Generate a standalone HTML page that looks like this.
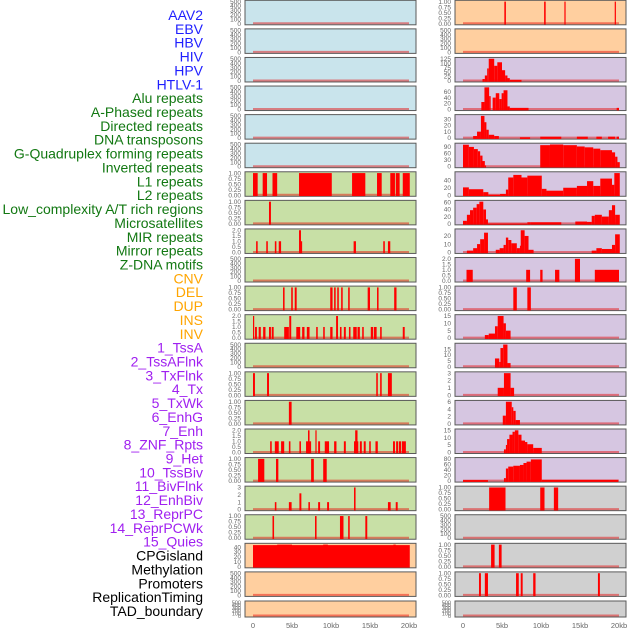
<!DOCTYPE html>
<html><head><meta charset="utf-8">
<style>
html,body{margin:0;padding:0;background:#fff;}
svg{display:block;}
</style></head>
<body>
<svg id="chart" width="630" height="630" viewBox="0 0 630 630" xmlns="http://www.w3.org/2000/svg"></svg>
<script>
// ---- data ----
const trackLabels = ["AAV2","EBV","HBV","HIV","HPV","HTLV-1","Alu repeats","A-Phased repeats","Directed repeats","DNA transposons","G-Quadruplex forming repeats","Inverted repeats","L1 repeats","L2 repeats","Low_complexity A/T rich regions","Microsatellites","MIR repeats","Mirror repeats","Z-DNA motifs","CNV","DEL","DUP","INS","INV","1_TssA","2_TssAFlnk","3_TxFlnk","4_Tx","5_TxWk","6_EnhG","7_Enh","8_ZNF_Rpts","9_Het","10_TssBiv","11_BivFlnk","12_EnhBiv","13_ReprPC","14_ReprPCWk","15_Quies","CPGisland","Methylation","Promoters","ReplicationTiming","TAD_boundary"];
const labelGroups = ["virus","virus","virus","virus","virus","virus","repeat","repeat","repeat","repeat","repeat","repeat","repeat","repeat","repeat","repeat","repeat","repeat","repeat","sv","sv","sv","sv","sv","state","state","state","state","state","state","state","state","state","state","state","state","state","state","state","other","other","other","other","other"];
const xTicks = [0,5,10,15,20];
const xTickLabels = ["0","5kb","10kb","15kb","20kb"];
const tEmpty = [0,100,200,300,400,500];
const tUnit = [0,0.25,0.5,0.75,1];
const tUnitLbl = ["0.00","0.25","0.50","0.75","1.00"];
const tTwo = [0,0.5,1,1.5,2];
const tTwoLbl = ["0.0","0.5","1.0","1.5","2.0"];

// middle column bars: [startKb, endKb, value]
const m6 = [[0,0.6,1],[1.24,1.8,1],[2.5,3.1,1],[5.9,10.1,1],[12.7,14.4,1],[15.9,16.5,1],[17.6,18.2,1],[18.3,18.8,1],[19.2,20.1,1]];
const m7 = [[2.05,2.3,1]];
const m8 = [[0.4,0.6,1],[1.7,1.9,1],[2.8,3.0,1],[3.3,3.6,1],[5.9,6.15,2],[6.1,6.3,1],[12.9,13.2,1],[16.7,16.9,1],[17.3,17.6,1]];
const m10 = [[3.85,4.05,1],[4.9,5.1,1],[5.35,5.6,1],[9.9,10.2,1],[10.4,10.6,1],[10.8,11,1],[11.3,11.5,1],[12.2,12.4,1],[14.7,15,1],[15.9,16.1,1],[18.1,18.4,1]];
const m11 = [[0,0.13,2],[0.26,0.5,1],[0.73,1.0,1],[1.3,1.6,1],[2.05,2.3,1],[2.4,2.65,1],[4.0,4.6,1],[4.65,4.9,2],[5.55,6.05,1],[6.3,6.6,1],[6.9,7.25,1],[8.1,8.3,1],[9.0,9.2,1],[9.9,10.2,1],[10.65,10.9,2],[11.15,11.35,1],[11.65,11.9,1],[12.3,12.5,1],[12.85,13.3,1],[13.4,13.7,1],[14.0,14.2,1],[15.1,15.4,1],[15.5,15.85,1],[16.3,16.5,1],[19.2,19.45,1]];
const m13 = [[0,0.25,1],[1.8,2.05,1],[15.8,16,1],[16.3,16.5,1],[17.3,17.8,1]];
const m14 = [[4.6,4.95,1]];
const m15 = [[2.2,2.4,1],[2.8,3.3,1],[3.6,4.0,1],[4.6,4.8,1],[5.95,6.15,1],[6.8,7.45,1],[7.05,7.25,2],[8.0,8.15,2],[8.35,8.6,1],[9.2,9.75,1],[10.4,10.7,1],[11.65,11.9,1],[12.95,13.5,1],[13.1,13.4,2],[13.7,13.95,1],[14.2,14.45,1],[14.9,15.1,1],[15.7,16,1],[17.95,18.2,1],[18.35,18.6,1],[18.7,19,1],[19.1,19.6,1]];
const m16 = [[0.65,1.45,1],[2.95,3.25,1],[7.45,7.8,1],[9.0,9.45,1]];
const m17 = [[2.8,3.0,1],[4.6,4.95,1],[5.95,6.2,2.2],[7.1,7.3,1],[8.35,8.6,1],[9.5,9.75,1],[12.95,13.15,3],[17.3,17.65,1],[18.3,18.55,1]];
const m18 = [[2.5,2.7,1],[7.95,8.15,1],[11.15,11.6,1],[12.2,12.4,1],[14.4,14.65,1]];
const m19 = [[0,20.1,44],[3.1,5.0,45],[9.0,9.6,45],[18.0,18.3,45]];

// right column bars
const r0 = [[5.3,5.5,1],[10.4,10.6,1],[13.0,13.15,1],[19.45,19.6,1]];
const r2 = [[2.5,2.8,10],[2.8,3.1,30],[3.1,3.3,70],[3.3,4.0,125],[4.0,4.4,85],[4.4,5.0,105],[5.0,5.4,60],[5.4,5.7,30],[5.7,6.0,15],[6.0,7.5,5]];
const r3 = [[2.35,2.75,25],[2.75,3.35,75],[3.35,3.55,45],[3.8,4.2,40],[4.2,4.65,55],[4.65,4.95,35],[4.95,5.2,55],[5.2,5.7,65],[5.7,6.0,10],[6.0,8.4,5],[19.7,20,5]];
const r4 = [[1.3,1.8,3],[1.8,2.3,10],[2.3,2.75,35],[2.75,3.0,25],[3.0,3.3,13],[3.3,4.0,5],[4.0,4.6,3],[7.3,8.6,1],[9.9,12.6,2],[14.6,16,2],[17.1,17.8,2],[18.6,19.5,2],[19.7,20,2]];
const r5 = [[0,0.75,100],[0.75,1.4,90],[1.4,1.9,80],[1.9,2.2,70],[2.2,2.5,50],[2.5,2.8,25],[2.8,2.9,5],[9.9,11.15,98],[11.15,12.85,101],[12.85,14.6,98],[14.6,15.6,92],[15.6,16.7,88],[16.7,17.6,82],[17.6,19.1,75],[19.1,19.5,65],[19.5,19.8,45],[19.8,20.1,20]];
const r6 = [[0,0.75,21],[0.75,2.6,16],[2.6,3.25,8],[3.25,4.75,1],[4.75,5.5,3],[5.5,5.8,15],[5.8,6.45,48],[6.45,7.5,55],[7.5,8.25,48],[8.25,10.1,53],[10.1,10.7,17],[10.7,12.85,12],[12.85,14.6,20],[14.6,15.9,25],[15.9,16.7,38],[16.7,17.6,25],[17.6,19.1,45],[19.1,19.4,28],[19.4,20.1,60]];
const r7 = [[0,0.5,8],[0.5,0.9,25],[0.9,1.3,38],[1.3,1.75,45],[1.75,2.1,55],[2.1,2.6,62],[2.6,2.95,40],[2.95,3.2,12],[3.2,8.25,0.5],[8.25,8.7,4],[8.7,12.6,4],[14.4,15.9,6],[15.9,16.5,5],[16.5,16.9,22],[16.9,17.8,25],[17.8,18.7,20],[18.7,19.1,38],[19.1,19.5,52],[19.5,20.1,25]];
const r8 = [[0.5,1.3,2],[1.3,1.8,5],[1.8,2.2,10],[2.2,2.7,16],[2.7,3.2,24],[4.2,4.7,3],[4.7,5.2,5],[5.2,5.5,9],[5.5,5.8,18],[5.8,6.2,15],[6.2,6.9,11],[6.9,7.3,5],[7.3,7.4,8],[7.4,7.9,27],[7.9,8.4,20],[8.4,9.05,3],[16.5,17.1,2],[17.1,17.8,5],[17.8,19.1,4],[19.1,19.5,9],[19.5,20.1,22]];
const r9 = [[0.45,1.25,1],[8.1,8.6,1],[9.9,10.2,1],[11.8,12.35,1],[14.35,15.0,2],[16.9,20.0,1]];
const r10 = [[6.45,6.9,1],[8.25,8.7,1]];
const r11 = [[2.8,3.3,2],[3.3,4.1,3],[4.1,4.45,8],[4.45,5.2,15],[5.2,5.5,10],[5.5,6.1,5]];
const r12 = [[4.1,4.65,7],[4.65,4.8,4],[4.8,5.15,16],[5.15,5.7,19],[5.7,6.1,3]];
const r13 = [[4.45,5.25,1],[5.25,6.1,3],[6.1,6.55,1]];
const r14 = [[5.1,5.5,2.2],[5.5,6.25,6],[6.25,6.45,4.5],[6.45,6.75,3.5],[6.75,7.3,1]];
const r15 = [[5.25,5.5,2],[5.5,5.65,5],[5.65,5.95,9],[5.95,6.35,12],[6.35,6.65,14],[6.65,7.1,15],[7.1,7.5,12],[7.5,7.95,8],[7.95,8.25,7],[8.25,9.0,5.5],[9.0,10.1,3]];
const r16 = [[0,3.2,3],[5.25,5.5,10],[5.5,5.8,45],[5.8,6.45,52],[6.45,7.3,55],[7.3,7.75,58],[7.75,8.15,65],[8.15,8.7,70],[8.7,10.1,78],[10.1,19.9,4]];
const r17 = [[3.35,5.45,1],[9.9,10.45,1],[11.65,12.2,1]];
const r19 = [[3.6,4.05,1],[4.6,4.95,1]];
const r20 = [[2.05,2.3,1],[2.8,3.2,1],[6.8,7.15,1],[7.4,7.65,1],[9.0,9.3,1],[17.3,17.55,1]];

const midTracks = [
 {bg:"blue",ticks:tEmpty,bars:[]},{bg:"blue",ticks:tEmpty,bars:[]},{bg:"blue",ticks:tEmpty,bars:[]},
 {bg:"blue",ticks:tEmpty,bars:[]},{bg:"blue",ticks:tEmpty,bars:[]},{bg:"blue",ticks:tEmpty,bars:[]},
 {bg:"green",ticks:tUnit,lbl:tUnitLbl,bars:m6},{bg:"green",ticks:tUnit,lbl:tUnitLbl,bars:m7},
 {bg:"green",ticks:tTwo,lbl:tTwoLbl,bars:m8},{bg:"green",ticks:tEmpty,bars:[]},
 {bg:"green",ticks:tUnit,lbl:tUnitLbl,bars:m10},{bg:"green",ticks:tTwo,lbl:tTwoLbl,bars:m11},
 {bg:"green",ticks:tEmpty,bars:[]},{bg:"green",ticks:tUnit,lbl:tUnitLbl,bars:m13},
 {bg:"green",ticks:tUnit,lbl:tUnitLbl,bars:m14},{bg:"green",ticks:tTwo,lbl:tTwoLbl,bars:m15},
 {bg:"green",ticks:tUnit,lbl:tUnitLbl,bars:m16},{bg:"green",ticks:[0,1,2,3],bars:m17},
 {bg:"green",ticks:tUnit,lbl:tUnitLbl,bars:m18},{bg:"orange",ticks:[0,10,20,30,40],bars:m19},
 {bg:"orange",ticks:tEmpty,bars:[]},{bg:"orange",ticks:tEmpty,bars:[]}
];
const rightTracks = [
 {bg:"orange",ticks:tUnit,lbl:tUnitLbl,bars:r0},{bg:"orange",ticks:tEmpty,bars:[]},
 {bg:"purple",ticks:[0,25,50,75,100,125],bars:r2},{bg:"purple",ticks:[0,20,40,60],bars:r3},
 {bg:"purple",ticks:[0,10,20,30],bars:r4},{bg:"purple",ticks:[0,30,60,90],bars:r5},
 {bg:"purple",ticks:[0,20,40],bars:r6},{bg:"purple",ticks:[0,20,40,60],bars:r7},
 {bg:"purple",ticks:[0,10,20],bars:r8},{bg:"purple",ticks:tTwo,lbl:tTwoLbl,bars:r9},
 {bg:"purple",ticks:tUnit,lbl:tUnitLbl,bars:r10},{bg:"purple",ticks:[0,5,10,15],bars:r11},
 {bg:"purple",ticks:[0,5,10,15],bars:r12},{bg:"purple",ticks:[0,1,2,3],bars:r13},
 {bg:"purple",ticks:[0,2,4,6],bars:r14},{bg:"purple",ticks:[0,5,10,15],bars:r15},
 {bg:"purple",ticks:[0,20,40,60,80],bars:r16},{bg:"gray",ticks:tUnit,lbl:tUnitLbl,bars:r17},
 {bg:"gray",ticks:tEmpty,bars:[]},{bg:"gray",ticks:tUnit,lbl:tUnitLbl,bars:r19},
 {bg:"gray",ticks:tUnit,lbl:tUnitLbl,bars:r20},{bg:"gray",ticks:tEmpty,bars:[]}
];

// ---- drawing ----
const NS = "http://www.w3.org/2000/svg";
const svg = document.getElementById("chart");
const bgColors = {blue:"#c9e4ec",green:"#c8e0a6",orange:"#ffcf9f",purple:"#d6c6e1",gray:"#d0d0d0"};
const labelColors = {virus:"#1f1fff",repeat:"#127812",sv:"#ffa500",state:"#a020f0",other:"#000000"};

function mk(tag, attrs){ const e=document.createElementNS(NS,tag); for(const k in attrs) e.setAttribute(k,attrs[k]); svg.appendChild(e); return e; }

trackLabels.forEach((t,i)=>{
  const e = mk("text",{x:203,y:15+i*13.86+5,"text-anchor":"end","font-family":"Liberation Sans, sans-serif","font-size":"14",fill:labelColors[labelGroups[i]]});
  e.textContent = t;
  
  
});

function rowGeom(i){
  if(i===21) return {top:601,h:16};
  return {top:0.3+i*28.58,h:24.5};
}

function drawColumn(tracks, px, colName){
  const W=171;
  const xs = kb => px + 8 + kb*(156/20);
  tracks.forEach((tr,i)=>{
    const g = rowGeom(i);
    const bottom = g.top+g.h;
    const lastTick = tr.ticks[tr.ticks.length-1];
    let ymax = lastTick;
    tr.bars.forEach(b=>{ if(b[2]>ymax) ymax=b[2]; });
    const ys = v => bottom - 1.2 - (v/ymax)*(g.h-2.5);
    const r = mk("rect",{x:px,y:g.top,width:W,height:g.h,fill:bgColors[tr.bg],stroke:"#5a5a5a","stroke-width":1});
    
    
    const base = mk("line",{x1:xs(0),x2:xs(20),y1:ys(0)-0.3,y2:ys(0)-0.3,stroke:"rgba(230,0,0,0.45)","stroke-width":2});
    
    
    tr.bars.forEach((b,j)=>{
      const x1=xs(b[0]), x2=xs(b[1]);
      const bar = mk("rect",{x:x1,y:ys(b[2]),width:Math.max(x2-x1,1.2),height:ys(0)-ys(b[2])+1,fill:"#ff0000"});
      
      
    });
    tr.ticks.forEach((t,k)=>{
      const lbl = tr.lbl ? tr.lbl[k] : String(t);
      const e = mk("text",{x:px-4,y:ys(t)+2.2,"text-anchor":"end","font-family":"Liberation Sans, sans-serif","font-size":(g.h<20?"5.5":"6.5"),fill:"#666"});
      e.textContent = lbl;
      
      
    });
  });
  xTicks.forEach((t,k)=>{
    const e = mk("text",{x:xs(t),y:628,"text-anchor":"middle","font-family":"Liberation Sans, sans-serif","font-size":"7.5",fill:"#666"});
    e.textContent = xTickLabels[k];
    
    
  });
}
drawColumn(midTracks, 245, "mid");
drawColumn(rightTracks, 455, "right");
</script>
</body></html>
